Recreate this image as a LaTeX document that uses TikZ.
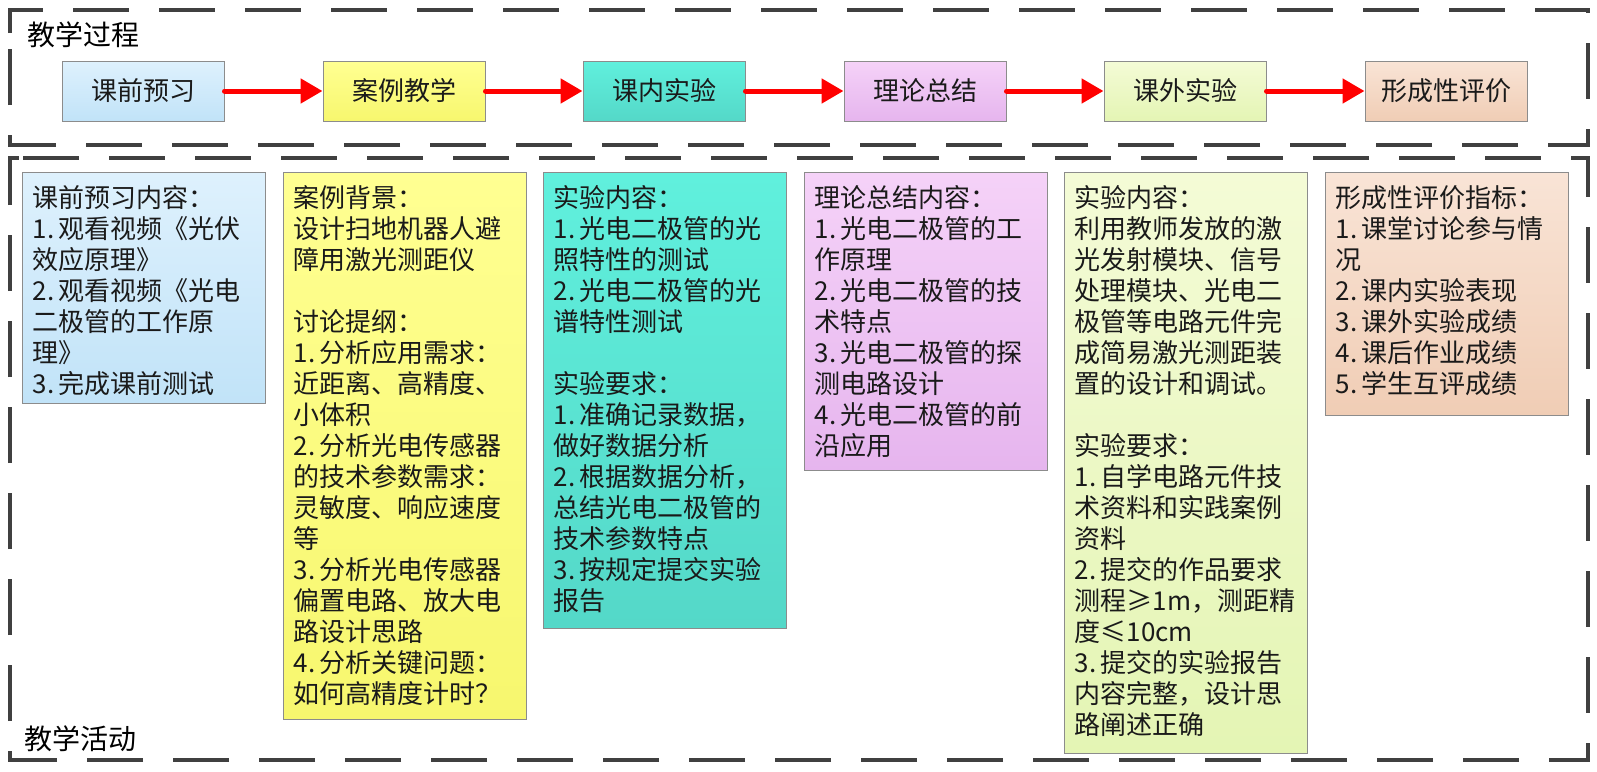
\documentclass[tikz,border=0pt]{standalone}
\usepackage{fontspec}
\setmainfont{Noto Sans CJK SC}
\usetikzlibrary{arrows.meta}
\definecolor{frameC}{HTML}{404040}
\definecolor{borderC}{HTML}{8C8C8C}
\definecolor{txtC}{HTML}{1A1A1A}
\definecolor{blueT}{RGB}{222,241,253}
\definecolor{blueB}{RGB}{193,227,248}
\definecolor{yelT}{RGB}{255,255,146}
\definecolor{yelB}{RGB}{247,247,110}
\definecolor{tealT}{RGB}{96,240,221}
\definecolor{tealB}{RGB}{84,216,200}
\definecolor{pinkT}{RGB}{245,210,248}
\definecolor{pinkB}{RGB}{230,181,238}
\definecolor{grnT}{RGB}{244,251,214}
\definecolor{grnB}{RGB}{228,245,180}
\definecolor{pchT}{RGB}{249,228,214}
\definecolor{pchB}{RGB}{240,205,181}
\newcommand{\numlab}[1]{\makebox[1em][l]{#1}}
\begin{document}
\begin{tikzpicture}[x=1pt,y=-1pt,
  frame/.style={draw=frameC,line width=4pt,dash pattern=on 56pt off 30pt},
  pbox/.style={draw=borderC,line width=1pt,minimum width=162pt,minimum height=60pt,inner sep=0pt,font=\fontsize{26}{31}\selectfont,text=txtC},
  abox/.style={draw=borderC,line width=1pt,minimum width=243pt,anchor=north west,inner sep=0pt},
  atext/.style={anchor=north west,inner sep=0pt,align=left,font=\fontsize{26}{31}\selectfont,text=txtC},
  flow/.style={draw=red,line width=5pt,line cap=round,-{Triangle[length=22pt,width=24pt]}},
  head/.style={anchor=west,inner sep=0pt,font=\fontsize{28}{30}\selectfont,text=black},
  cblue/.style={top color=blueT,bottom color=blueB},
  cyel/.style={top color=yelT,bottom color=yelB},
  cteal/.style={top color=tealT,bottom color=tealB},
  cpink/.style={top color=pinkT,bottom color=pinkB},
  cgrn/.style={top color=grnT,bottom color=grnB},
  cpch/.style={top color=pchT,bottom color=pchB}]
\useasboundingbox (0,0) rectangle (1597,771);

% frames
\draw[frame] (10,33) -- (10,10) -- (1588,10) -- (1588,145) -- (10,145) -- cycle;
\draw[frame] (23,158) -- (1588,158) -- (1588,760) -- (10,760) -- (10,158) -- cycle;

% headings
\node[head] (h1) at (27,35) {教学过程};
\node[head] (h2) at (24,739) {教学活动};

% process boxes
\node[pbox,cblue] (p1) at (143,91) {课前预习};
\node[pbox,cyel]  (p2) at (404,91) {案例教学};
\node[pbox,cteal] (p3) at (664,91) {课内实验};
\node[pbox,cpink] (p4) at (925,91) {理论总结};
\node[pbox,cgrn]  (p5) at (1185,91) {课外实验};
\node[pbox,cpch]  (p6) at (1446,91) {形成性评价};

\draw[flow] (p1.east) -- (p2.west);
\draw[flow] (p2.east) -- (p3.west);
\draw[flow] (p3.east) -- (p4.west);
\draw[flow] (p4.east) -- (p5.west);
\draw[flow] (p5.east) -- (p6.west);

% activity boxes
\node[abox,cblue,minimum height=231pt] (a1) at (22,172) {};
\node[abox,cyel,minimum height=547pt]  (a2) at (283,172) {};
\node[abox,cteal,minimum height=456pt] (a3) at (543,172) {};
\node[abox,cpink,minimum height=298pt] (a4) at (804,172) {};
\node[abox,cgrn,minimum height=581pt]  (a5) at (1064,172) {};
\node[abox,cpch,minimum height=243pt]  (a6) at (1325,172) {};

\node[atext] (t1) at ([xshift=10.5pt,yshift=-11pt]a1.north west) {\rule{0pt}{24pt}课前预习内容：\\
\numlab{1.}观看视频《光伏\\
效应原理》\\
\numlab{2.}观看视频《光电\\
二极管的工作原\\
理》\\
\numlab{3.}完成课前测试};

\node[atext] (t2) at ([xshift=10.5pt,yshift=-11pt]a2.north west) {\rule{0pt}{24pt}案例背景：\\
设计扫地机器人避\\
障用激光测距仪\\[31pt]
讨论提纲：\\
\numlab{1.}分析应用需求：\\
近距离、高精度、\\
小体积\\
\numlab{2.}分析光电传感器\\
的技术参数需求：\\
灵敏度、响应速度\\
等\\
\numlab{3.}分析光电传感器\\
偏置电路、放大电\\
路设计思路\\
\numlab{4.}分析关键问题：\\
如何高精度计时？};

\node[atext] (t3) at ([xshift=10.5pt,yshift=-11pt]a3.north west) {\rule{0pt}{24pt}实验内容：\\
\numlab{1.}光电二极管的光\\
照特性的测试\\
\numlab{2.}光电二极管的光\\
谱特性测试\\[31pt]
实验要求：\\
\numlab{1.}准确记录数据，\\
做好数据分析\\
\numlab{2.}根据数据分析，\\
总结光电二极管的\\
技术参数特点\\
\numlab{3.}按规定提交实验\\
报告};

\node[atext] (t4) at ([xshift=10.5pt,yshift=-11pt]a4.north west) {\rule{0pt}{24pt}理论总结内容：\\
\numlab{1.}光电二极管的工\\
作原理\\
\numlab{2.}光电二极管的技\\
术特点\\
\numlab{3.}光电二极管的探\\
测电路设计\\
\numlab{4.}光电二极管的前\\
沿应用};

\node[atext] (t5) at ([xshift=10.5pt,yshift=-11pt]a5.north west) {\rule{0pt}{24pt}实验内容：\\
利用教师发放的激\\
光发射模块、信号\\
处理模块、光电二\\
极管等电路元件完\\
成简易激光测距装\\
置的设计和调试。\\[31pt]
实验要求：\\
\numlab{1.}自学电路元件技\\
术资料和实践案例\\
资料\\
\numlab{2.}提交的作品要求\\
测程≥1m，测距精\\
度≤10cm\\
\numlab{3.}提交的实验报告\\
内容完整，设计思\\
路阐述正确};

\node[atext] (t6) at ([xshift=10.5pt,yshift=-11pt]a6.north west) {\rule{0pt}{24pt}形成性评价指标：\\
\numlab{1.}课堂讨论参与情\\
况\\
\numlab{2.}课内实验表现\\
\numlab{3.}课外实验成绩\\
\numlab{4.}课后作业成绩\\
\numlab{5.}学生互评成绩};
\end{tikzpicture}
\end{document}
